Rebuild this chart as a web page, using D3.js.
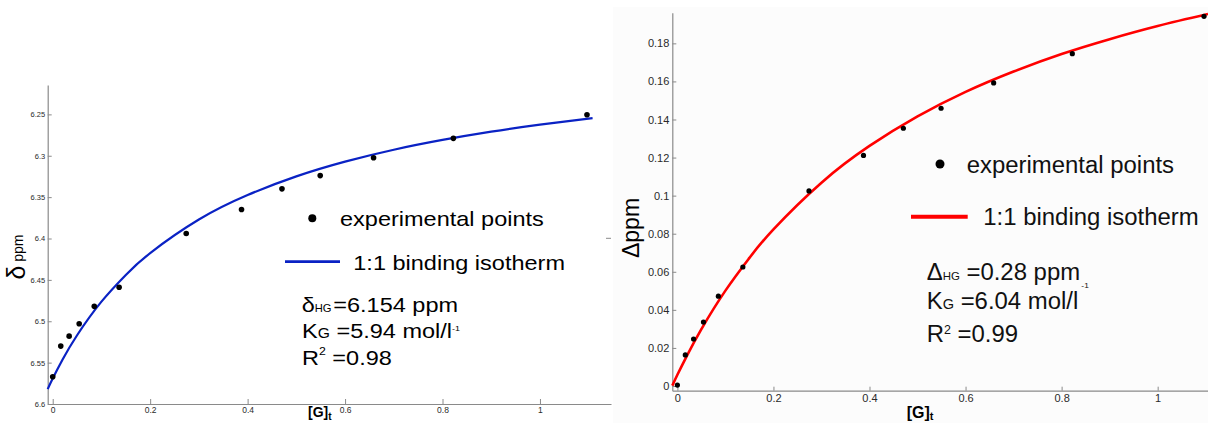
<!DOCTYPE html>
<html><head><meta charset="utf-8">
<script src="https://cdn.jsdelivr.net/npm/d3@7"></script>
<style>
html,body{margin:0;padding:0;background:#fff;}
svg{display:block;font-family:"Liberation Sans",Arial,sans-serif;}
</style></head>
<body>
<svg id="chart" width="1208" height="423"></svg>
<script>
// ---------- data ----------
const guestConc = [0, 0.0165, 0.0337, 0.0543, 0.0853, 0.1363, 0.274, 0.3875, 0.4705, 0.549, 0.6585, 0.8223, 1.0965];
const deltaObs = [6.567, 6.530, 6.518, 6.503, 6.482, 6.459, 6.394, 6.365, 6.340, 6.324, 6.3025, 6.279, 6.2505];
const deltaShift = [0.0005, 0.0163, 0.0247, 0.0336, 0.0472, 0.0625, 0.1025, 0.1211, 0.1354, 0.1459, 0.1592, 0.1746, 0.1942];

const fitLeftX = [-0.0103, 0, 0.02, 0.05, 0.1, 0.15, 0.2, 0.3, 0.4, 0.5, 0.6, 0.7, 0.8, 0.9, 1.0, 1.108];
const fitLeftY = [6.582, 6.5693, 6.5466, 6.5169, 6.4763, 6.444, 6.4176, 6.3771, 6.3475, 6.3249, 6.3071, 6.2927, 6.2809, 6.2709, 6.2624, 6.2546];

const fitRightX = [-0.0106, 0, 0.02, 0.05, 0.1, 0.15, 0.2, 0.3, 0.4, 0.5, 0.6, 0.7, 0.8, 0.9, 1.0, 1.1048];
const fitRightY = [0.0002, 0.0059, 0.016, 0.0299, 0.0501, 0.0673, 0.0823, 0.1068, 0.1261, 0.1416, 0.1545, 0.1652, 0.1744, 0.1822, 0.1891, 0.1954];

const xTicks = [0, 0.2, 0.4, 0.6, 0.8, 1];
const leftYTicks = [6.25, 6.3, 6.35, 6.4, 6.45, 6.5, 6.55, 6.6];
const rightYTicks = [0, 0.02, 0.04, 0.06, 0.08, 0.1, 0.12, 0.14, 0.16, 0.18];

const legendPoints = "experimental points";
const legendLine = "1:1 binding isotherm";

// ---------- drawing ----------
const svg = d3.select("#chart");
const axisColor = "#8a8a8a";
const txtColor = "#2a2a2a";

// right panel background
svg.append("rect").attr("x", 613).attr("y", 7).attr("width", 595).attr("height", 416).attr("fill", "#fcfcfc");

// ===== LEFT PANEL =====
const xL = d3.scaleLinear().domain([-0.0103, 1.1458]).range([47.7, 611]);
const yL = d3.scaleLinear().domain([6.2145, 6.6]).range([85, 404]);

const gLx = svg.append("g").attr("transform", "translate(0,404)")
  .call(d3.axisBottom(xL).tickValues(xTicks).tickFormat(d3.format("~g")).tickSize(-5).tickSizeOuter(0).tickPadding(3));
const gLy = svg.append("g").attr("transform", "translate(47.7,0)")
  .call(d3.axisLeft(yL).tickValues(leftYTicks).tickFormat(d3.format("~g")).tickSize(-4).tickSizeOuter(0).tickPadding(2.5));
[gLx, gLy].forEach(g => {
  g.select(".domain").attr("stroke", axisColor).attr("stroke-width", 1.2);
  g.selectAll(".tick line").attr("stroke", axisColor);
  g.selectAll(".tick text").attr("fill", txtColor).attr("font-family", "Liberation Sans, Arial, sans-serif");
});
gLx.selectAll(".tick text").attr("font-size", 8.5);
gLy.selectAll(".tick text").attr("font-size", 7.5);

// fit curve
svg.append("path")
  .datum(fitLeftX.map((x, i) => [x, fitLeftY[i]]))
  .attr("d", d3.line().x(d => xL(d[0])).y(d => yL(d[1])).curve(d3.curveNatural))
  .attr("fill", "none").attr("stroke", "#0a22c4").attr("stroke-width", 2.2);

// points
svg.append("g").selectAll("circle").data(guestConc.map((x, i) => [x, deltaObs[i]])).join("circle")
  .attr("cx", d => xL(d[0])).attr("cy", d => yL(d[1])).attr("r", 2.8).attr("fill", "#000");

// axis titles
const ltitle = svg.append("text").attr("transform", "translate(25,257) rotate(-90)")
  .attr("text-anchor", "middle").attr("fill", "#000");
ltitle.append("tspan").attr("font-size", 25).text("δ");
ltitle.append("tspan").attr("font-size", 14).attr("dy", -2).text(" ppm");

const lG = svg.append("text").attr("x", 308).attr("y", 417).attr("font-weight", "bold").attr("font-size", 14).attr("fill", "#000");
lG.append("tspan").text("[G]");
lG.append("tspan").attr("font-size", 10).attr("dy", 3).text("t");

// legend
const sxL = 1.12;
svg.append("circle").attr("cx", 312.3).attr("cy", 218.3).attr("r", 4).attr("fill", "#000");
svg.append("text").attr("transform", `translate(340,226) scale(${sxL},1)`).attr("font-size", 21).attr("fill", "#000").text(legendPoints);
svg.append("line").attr("x1", 285).attr("x2", 340).attr("y1", 261.7).attr("y2", 261.7).attr("stroke", "#0a22c4").attr("stroke-width", 2.7);
svg.append("text").attr("transform", `translate(353.3,270) scale(${sxL},1)`).attr("font-size", 21).attr("fill", "#000").text(legendLine);

// parameters
const p1 = svg.append("text").attr("transform", `translate(301.7,311.7) scale(${sxL},1)`).attr("font-size", 21).attr("fill", "#000");
p1.append("tspan").text("δ");
p1.append("tspan").attr("font-size", 10).text("HG");
p1.append("tspan").attr("dx", 1.5).text("=6.154 ppm");
const p2 = svg.append("text").attr("transform", `translate(302,338.3) scale(${sxL},1)`).attr("font-size", 21).attr("fill", "#000");
p2.append("tspan").text("K");
p2.append("tspan").attr("font-size", 14).text("G");
p2.append("tspan").text(" =5.94 mol/l");
p2.append("tspan").attr("font-size", 8).attr("dy", -7).text("-1");
const p3 = svg.append("text").attr("transform", `translate(302,365) scale(${sxL},1)`).attr("font-size", 21).attr("fill", "#000");
p3.append("tspan").text("R");
p3.append("tspan").attr("font-size", 11).attr("dy", -10).text("2");
p3.append("tspan").attr("dy", 10).text(" =0.98");

// small stray tick near panel gap
svg.append("line").attr("x1", 606).attr("x2", 611).attr("y1", 238.3).attr("y2", 238.3).attr("stroke", axisColor);

// ===== RIGHT PANEL =====
const xR = d3.scaleLinear().domain([-0.0106, 1.1048]).range([672.3, 1208]);
const yR = d3.scaleLinear().domain([-0.00247, 0.1961]).range([390.7, 12.7]);

const gRx = svg.append("g").attr("transform", "translate(0,390.7)")
  .call(d3.axisBottom(xR).tickValues(xTicks).tickFormat(d3.format("~g")).tickSize(-4).tickSizeOuter(0).tickPadding(4));
const gRy = svg.append("g").attr("transform", "translate(672.3,0)")
  .call(d3.axisLeft(yR).tickValues(rightYTicks).tickFormat(d3.format("~g")).tickSize(-4).tickSizeOuter(0).tickPadding(3));
[gRx, gRy].forEach(g => {
  g.select(".domain").attr("stroke", axisColor).attr("stroke-width", 1.2);
  g.selectAll(".tick line").attr("stroke", axisColor);
  g.selectAll(".tick text").attr("fill", txtColor).attr("font-size", 11).attr("font-family", "Liberation Sans, Arial, sans-serif");
});

svg.append("path")
  .datum(fitRightX.map((x, i) => [x, fitRightY[i]]))
  .attr("d", d3.line().x(d => xR(d[0])).y(d => yR(d[1])).curve(d3.curveNatural))
  .attr("fill", "none").attr("stroke", "#ff0000").attr("stroke-width", 2.6);

svg.append("g").selectAll("circle").data(guestConc.map((x, i) => [x, deltaShift[i]])).join("circle")
  .attr("cx", d => xR(d[0])).attr("cy", d => yR(d[1])).attr("r", 2.6).attr("fill", "#000");

svg.append("text").attr("transform", "translate(639,228) rotate(-90)")
  .attr("text-anchor", "middle").attr("font-size", 23).attr("fill", "#000").text("Δppm");

const rG = svg.append("text").attr("x", 906.7).attr("y", 418).attr("font-weight", "bold").attr("font-size", 16).attr("fill", "#000");
rG.append("tspan").text("[G]");
rG.append("tspan").attr("font-size", 11).attr("dy", 2).text("t");

const sxR = 1.04;
svg.append("circle").attr("cx", 940).attr("cy", 164).attr("r", 4.5).attr("fill", "#000");
svg.append("text").attr("transform", `translate(966.7,173.3) scale(${sxR},1)`).attr("font-size", 23).attr("fill", "#111").text(legendPoints);
svg.append("line").attr("x1", 911).attr("x2", 967.7).attr("y1", 216.7).attr("y2", 216.7).attr("stroke", "#ff0000").attr("stroke-width", 4);
svg.append("text").attr("transform", `translate(983.3,225) scale(${sxR},1)`).attr("font-size", 23).attr("fill", "#111").text(legendLine);

const r1 = svg.append("text").attr("transform", `translate(926.7,280) scale(${sxR},1)`).attr("font-size", 23).attr("fill", "#111");
r1.append("tspan").text("Δ");
r1.append("tspan").attr("font-size", 11).text("HG");
r1.append("tspan").text(" =0.28 ppm");
const r2 = svg.append("text").attr("transform", `translate(926.7,308.5) scale(${sxR},1)`).attr("font-size", 23).attr("fill", "#111");
r2.append("tspan").text("K");
r2.append("tspan").attr("font-size", 14).text("G");
r2.append("tspan").text(" =6.04 mol/l");
r2.append("tspan").attr("font-size", 8).attr("dx", 3).attr("dy", -21).text("-1");
const r3 = svg.append("text").attr("transform", `translate(926.7,341.5) scale(${sxR},1)`).attr("font-size", 23).attr("fill", "#111");
r3.append("tspan").text("R");
r3.append("tspan").attr("font-size", 12).attr("dy", -8).text("2");
r3.append("tspan").attr("dy", 8).text(" =0.99");
</script>
</body></html>
